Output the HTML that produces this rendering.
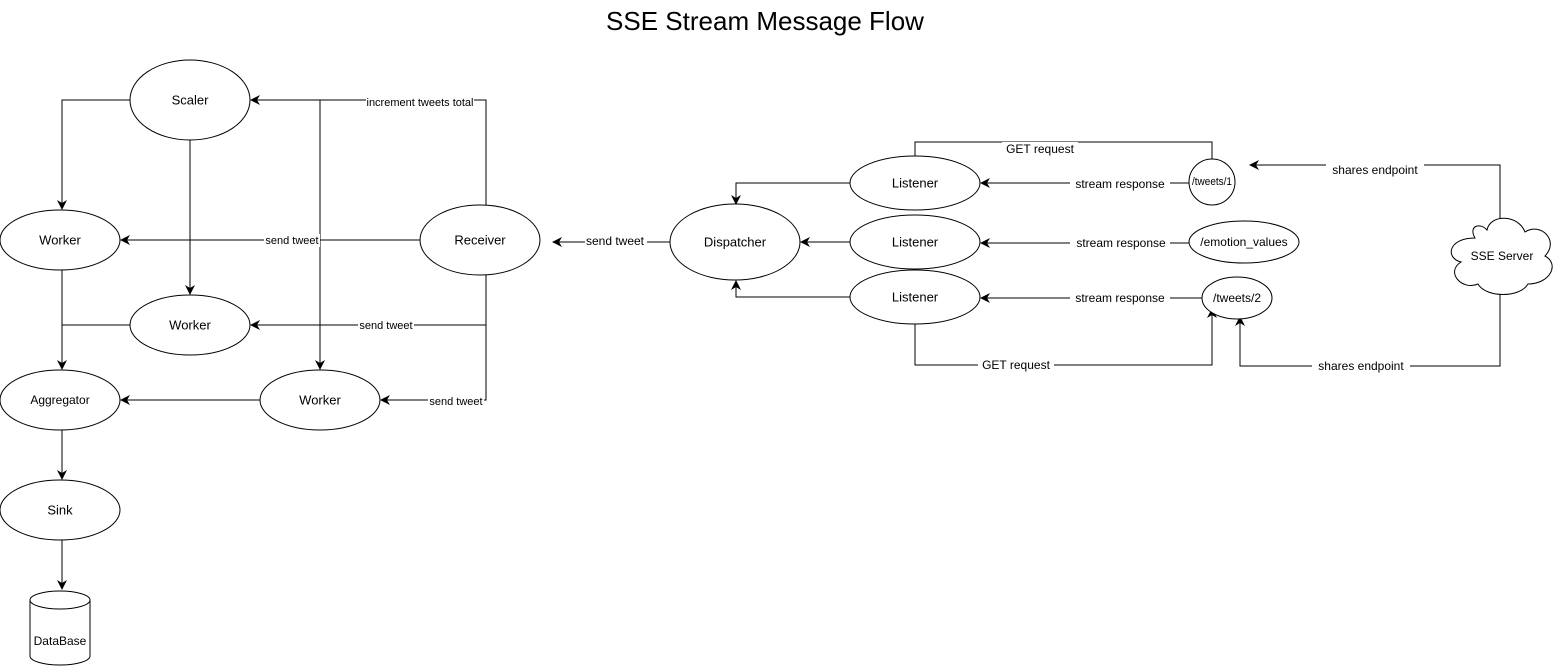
<!DOCTYPE html>
<html><head><meta charset="utf-8"><style>
html,body{margin:0;padding:0;background:#fff;}
svg{display:block;font-family:"Liberation Sans",Arial,sans-serif;}
.n{fill:#fff;stroke:#000;stroke-width:1;}
.l{fill:none;stroke:#000;stroke-width:1;}
.t{font-size:13px;text-anchor:middle;dominant-baseline:central;}
.e{font-size:11px;text-anchor:middle;dominant-baseline:central;}
.bg{fill:#fff;}
</style></head><body>
<svg width="1562" height="671" viewBox="0 0 1562 671">
<defs><marker id="a" markerWidth="10" markerHeight="10" refX="9" refY="5" orient="auto" markerUnits="userSpaceOnUse"><path d="M0,0 L10,5 L0,10 L3,5 Z" fill="#000"/></marker></defs>
<text x="765" y="21" font-size="26" text-anchor="middle" dominant-baseline="central">SSE Stream Message Flow</text>

<!-- left edges -->
<path class="l" d="M130,100 H62 V209" marker-end="url(#a)"/>
<path class="l" d="M190,140 V294" marker-end="url(#a)"/>
<path class="l" d="M486,205 V100 H251" marker-end="url(#a)"/>
<path class="l" d="M320,100 V369" marker-end="url(#a)"/>
<path class="l" d="M420,240 H121" marker-end="url(#a)"/>
<path class="l" d="M486,275 V325 H251" marker-end="url(#a)"/>
<path class="l" d="M486,325 V400 H381" marker-end="url(#a)"/>
<path class="l" d="M62,270 V369" marker-end="url(#a)"/>
<path class="l" d="M130,325 H62"/>
<path class="l" d="M260,400 H121" marker-end="url(#a)"/>
<path class="l" d="M62,430 V479" marker-end="url(#a)"/>
<path class="l" d="M62,540 V589" marker-end="url(#a)"/>

<rect class="bg" x="366" y="96" width="108" height="13"/><text class="e" x="420" y="103">increment tweets total</text>
<rect class="bg" x="264" y="234" width="56" height="13"/><text class="e" x="292" y="241">send tweet</text>
<rect class="bg" x="358" y="319" width="56" height="13"/><text class="e" x="386" y="326">send tweet</text>
<rect class="bg" x="428" y="396" width="56" height="13"/><text class="e" x="456" y="402">send tweet</text>

<!-- right edges -->
<path class="l" d="M670,242 H553" marker-end="url(#a)"/>
<rect class="bg" x="585" y="234" width="62" height="14"/><text class="t" x="615" y="241" style="font-size:12px">send tweet</text>
<path class="l" d="M850,183 H736 V204" marker-end="url(#a)"/>
<path class="l" d="M850,242 H801" marker-end="url(#a)"/>
<path class="l" d="M850,297 H736 V281" marker-end="url(#a)"/>
<path class="l" d="M1190,183 H981" marker-end="url(#a)"/>
<path class="l" d="M1190,243 H981" marker-end="url(#a)"/>
<path class="l" d="M1202,298 H981" marker-end="url(#a)"/>
<path class="l" d="M915,156 V142 H1212 V160"/>
<path class="l" d="M915,324 V365 H1212 V309" marker-end="url(#a)"/>
<path class="l" d="M1500,220 V165 H1250" marker-end="url(#a)"/>
<path class="l" d="M1500,292 V366 H1240 V317" marker-end="url(#a)"/>
<g style="font-size:12px">
<rect class="bg" x="1070" y="176" width="100" height="14"/><text class="t" x="1120" y="184" style="font-size:12px">stream response</text>
<rect class="bg" x="1070" y="236" width="100" height="14"/><text class="t" x="1121" y="243" style="font-size:12px">stream response</text>
<rect class="bg" x="1070" y="291" width="100" height="14"/><text class="t" x="1120" y="298" style="font-size:12px">stream response</text>
<rect class="bg" x="1002" y="142" width="76" height="14"/><text class="t" x="1040" y="149" style="font-size:12px">GET request</text>
<rect class="bg" x="978" y="358" width="76" height="14"/><text class="t" x="1016" y="365" style="font-size:12px">GET request</text>
<rect class="bg" x="1326" y="163" width="98" height="14"/><text class="t" x="1375" y="170" style="font-size:12px">shares endpoint</text>
<rect class="bg" x="1312" y="359" width="98" height="14"/><text class="t" x="1361" y="366" style="font-size:12px">shares endpoint</text>
</g>

<!-- left nodes -->
<ellipse class="n" cx="190" cy="100" rx="60" ry="40"/><text class="t" x="190" y="100">Scaler</text>
<ellipse class="n" cx="60" cy="240" rx="60" ry="30"/><text class="t" x="60" y="240">Worker</text>
<ellipse class="n" cx="190" cy="325" rx="60" ry="30"/><text class="t" x="190" y="325">Worker</text>
<ellipse class="n" cx="320" cy="400" rx="60" ry="30"/><text class="t" x="320" y="400">Worker</text>
<ellipse class="n" cx="60" cy="400" rx="60" ry="30"/><text class="t" x="60" y="400" style="font-size:12px">Aggregator</text>
<ellipse class="n" cx="60" cy="510" rx="60" ry="30"/><text class="t" x="60" y="510">Sink</text>
<ellipse class="n" cx="480" cy="240" rx="60" ry="35"/><text class="t" x="480" y="240">Receiver</text>
<path class="n" d="M30,600 V656 A30,9 0 0 0 90,656 V600 A30,9 0 0 0 30,600 A30,9 0 0 0 90,600"/>
<text class="t" x="60" y="641" style="font-size:12px">DataBase</text>

<!-- right nodes -->
<ellipse class="n" cx="735" cy="242" rx="65" ry="38"/><text class="t" x="735" y="242">Dispatcher</text>
<ellipse class="n" cx="915" cy="183" rx="65" ry="27"/><text class="t" x="915" y="183">Listener</text>
<ellipse class="n" cx="915" cy="242" rx="65" ry="27"/><text class="t" x="915" y="242">Listener</text>
<ellipse class="n" cx="915" cy="297" rx="65" ry="27"/><text class="t" x="915" y="297">Listener</text>
<ellipse class="n" cx="1212" cy="182" rx="23" ry="23"/><text class="t" x="1212" y="182" style="font-size:11px" textLength="40" lengthAdjust="spacingAndGlyphs">/tweets/1</text>
<ellipse class="n" cx="1244" cy="242" rx="55" ry="21"/><text class="t" x="1244" y="242" style="font-size:12px">/emotion_values</text>
<ellipse class="n" cx="1237" cy="298" rx="35" ry="21"/><text class="t" x="1237" y="298" style="font-size:12px">/tweets/2</text>
<path class="n" d="M1475,238 C1448,238 1445,258 1461,262 C1445,272 1462,291 1478,284 C1486,298 1520,298 1528,284 C1550,284 1560,264 1545,256 C1560,240 1540,222 1525,232 C1518,214 1490,214 1487,230 C1480,222 1468,226 1475,238 Z"/>
<text class="t" x="1502" y="256" style="font-size:12px">SSE Server</text>
</svg>
</body></html>
